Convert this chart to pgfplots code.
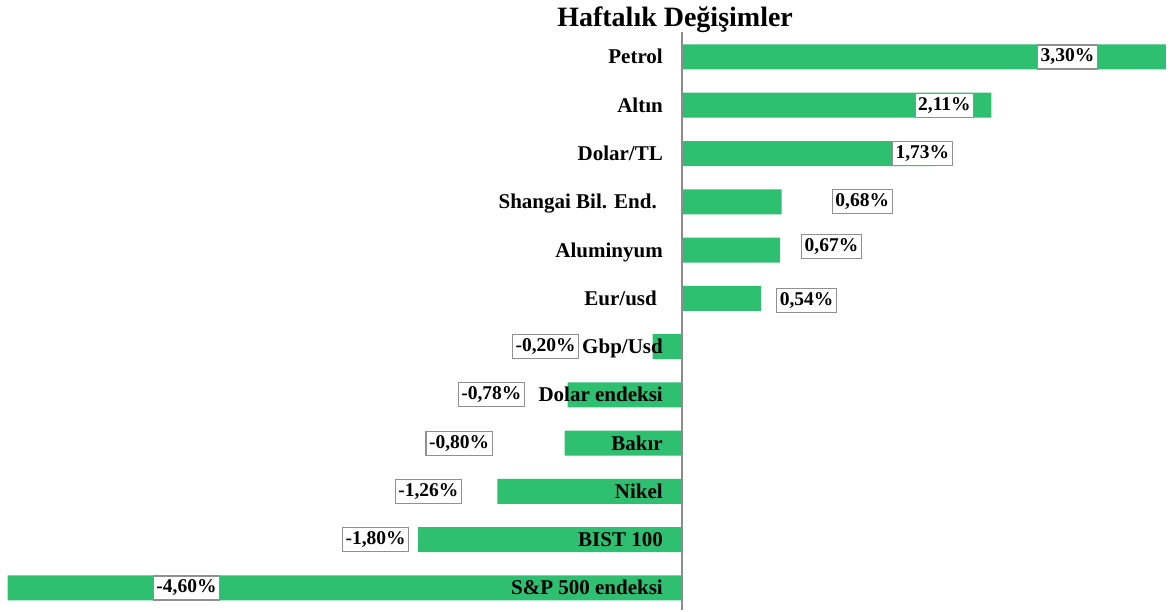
\documentclass[border=0pt]{standalone}
\usepackage{fontspec}
\setmainfont{Liberation Serif}
\usepackage{pgfplots}
\pgfplotsset{compat=1.18}
\definecolor{barg}{HTML}{2FBF71}
\definecolor{axg}{HTML}{8C8C8C}
\definecolor{boxg}{HTML}{909090}
\tikzset{
  cat/.style={anchor=base east, inner sep=0pt, font=\fontsize{21}{25}\selectfont\bfseries, xshift=-19pt, yshift=-7pt},
  lab/.style={draw=boxg, line width=1.2pt, fill=white, inner xsep=3pt, inner ysep=4pt, font=\fontsize{19.5}{22}\selectfont\bfseries},
}
\begin{document}
\begin{tikzpicture}
\begin{axis}[
  scale only axis, width=1170pt, height=612pt,
  xmin=-4.652, xmax=3.329, ymin=-0.497, ymax=12.18,
  axis line style={draw=none},
  xtick=\empty, ytick=\empty,
  xbar, bar width=25pt,
  clip=false,
]
\path (rel axis cs:0,0) rectangle (rel axis cs:1,1);
\addplot[fill=barg, draw=none] coordinates {(-4.60,0) (-1.80,1) (-1.26,2) (-0.80,3) (-0.78,4) (-0.20,5) (0.54,6) (0.67,7) (0.68,8) (1.73,9) (2.11,10) (3.30,11)};
\draw[axg, line width=1.5pt] (axis cs:0,-0.456) -- (axis cs:0,11.52);
\node[cat] at (axis cs:0,11) {Petrol};
\node[cat] at (axis cs:0,10) {Altın};
\node[cat] at (axis cs:0,9) {Dolar/TL};
\node[cat, xshift=-6pt] at (axis cs:0,8) {Shangai Bil. End.};
\node[cat] at (axis cs:0,7) {Aluminyum};
\node[cat, xshift=-6pt] at (axis cs:0,6) {Eur/usd};
\node[cat] at (axis cs:0,5) {Gbp/Usd};
\node[cat] at (axis cs:0,4) {Dolar endeksi};
\node[cat] at (axis cs:0,3) {Bakır};
\node[cat] at (axis cs:0,2) {Nikel};
\node[cat] at (axis cs:0,1) {BIST 100};
\node[cat] at (axis cs:0,0) {S\&P 500 endeksi};
\node[lab] at (axis cs:2.63,11) {3,30\%};
\node[lab] at (axis cs:1.79,10) {2,11\%};
\node[lab] at (axis cs:1.64,9) {1,73\%};
\node[lab] at (axis cs:1.23,8) {0,68\%};
\node[lab] at (axis cs:1.02,7.08) {0,67\%};
\node[lab] at (axis cs:0.85,5.96) {0,54\%};
\node[lab] at (axis cs:-0.93,5) {-0,20\%};
\node[lab] at (axis cs:-1.30,4) {-0,78\%};
\node[lab] at (axis cs:-1.52,3) {-0,80\%};
\node[lab] at (axis cs:-1.73,2) {-1,26\%};
\node[lab] at (axis cs:-2.09,1) {-1,80\%};
\node[lab] at (axis cs:-3.38,0) {-4,60\%};
\node[anchor=base, font=\fontsize{28}{32}\selectfont\bfseries] at (rel axis cs:0.577,0.956) {Haftalık Değişimler};
\end{axis}
\end{tikzpicture}
\end{document}
